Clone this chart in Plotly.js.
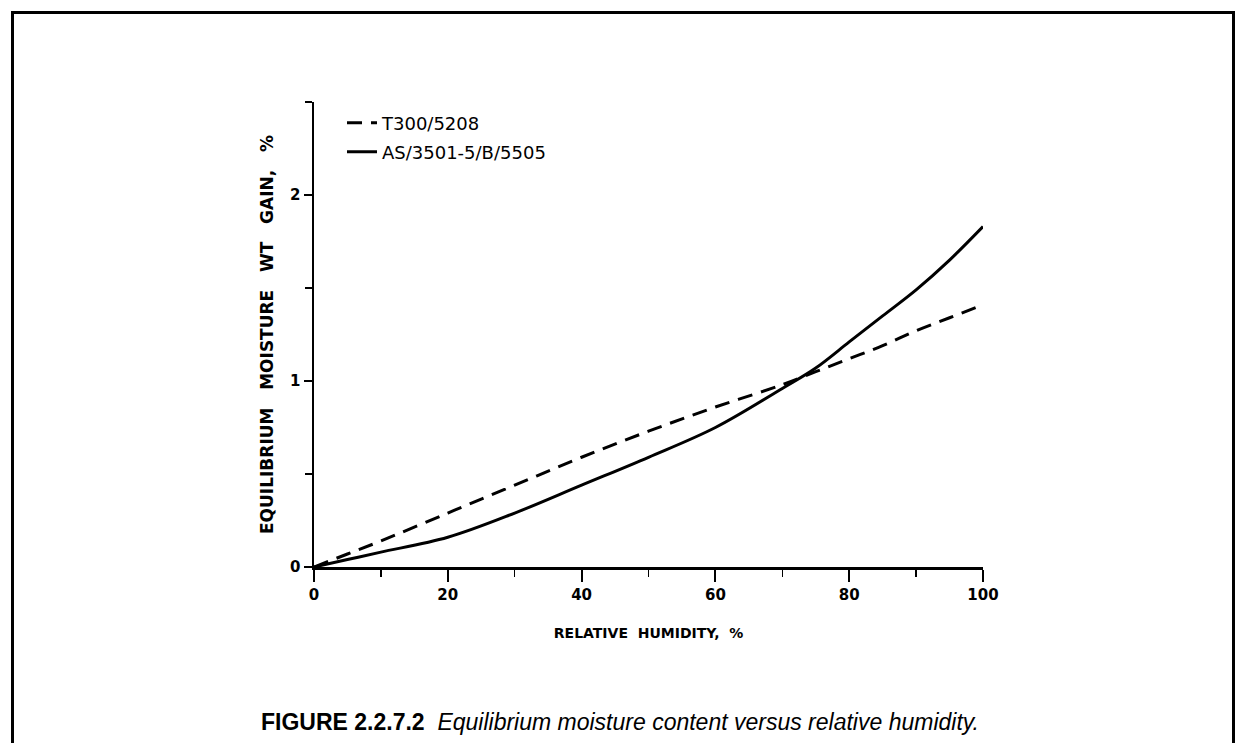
<!DOCTYPE html>
<html>
<head>
<meta charset="utf-8">
<script src="https://cdn.plot.ly/plotly-3.0.1.min.js"></script>
<style>
  html, body { margin: 0; padding: 0; background: #fff; }
  #wrap { position: relative; width: 1244px; height: 743px; }
  #frame { position: absolute; left: 11px; top: 11px; width: 1218px; height: 740px;
           border-top: 3px solid #000; border-left: 3px solid #000; border-right: 3px solid #000; pointer-events: none; }
  #chart { position: absolute; left: 0; top: 0; width: 1244px; height: 743px; }
</style>
</head>
<body>
<div id="wrap">
  <div id="chart"></div>
  <div id="frame"></div>
</div>
<script>
// Relative humidity, %
const humidity = [0, 5, 10, 20, 30, 40, 50, 60, 70, 75, 80, 85, 90, 95, 100];
// T300/5208 equilibrium moisture weight gain, %
const t300 = [0, 0.07, 0.14, 0.29, 0.44, 0.59, 0.73, 0.86, 0.98, 1.05, 1.12, 1.19, 1.27, 1.34, 1.41];
// AS/3501-5/B/5505 equilibrium moisture weight gain, %
const as3501 = [0, 0.04, 0.08, 0.16, 0.29, 0.44, 0.59, 0.75, 0.96, 1.07, 1.21, 1.35, 1.49, 1.65, 1.83];

const seriesNames = ['T300/5208', 'AS/3501-5/B/5505'];
const xTitle = ['RELATIVE', 'HUMIDITY,', '%'].join('\u00a0\u00a0');
const yTitle = ['EQUILIBRIUM', 'MOISTURE', 'WT', 'GAIN,', '%'].join('\u00a0\u00a0\u00a0');
const caption = '<b>FIGURE 2.2.7.2</b>\u00a0\u00a0<i>Equilibrium moisture content versus relative humidity.</i>';

const W = 1244, H = 743;
const plotL = 314, plotR = 983, plotT = 102, plotB = 567;
const px2x = p => (p - plotL) / (plotR - plotL);
const px2y = p => (plotB - p) / (plotB - plotT);

const traces = [
  { x: humidity, y: t300, name: seriesNames[0], mode: 'lines', legend: 'legend',
    line: { color: '#000', width: 3, dash: '15px,9px', shape: 'spline', smoothing: 1 } },
  { x: humidity, y: as3501, name: seriesNames[1], mode: 'lines', legend: 'legend2',
    line: { color: '#000', width: 3, shape: 'spline', smoothing: 1 } }
];

const tickFont = { family: 'DejaVu Sans', size: 15, color: '#000', weight: 'bold' };
const legendFont = { family: 'DejaVu Sans', size: 18, color: '#000' };

const layout = {
  width: W, height: H,
  paper_bgcolor: '#fff', plot_bgcolor: '#fff',
  margin: { l: plotL, r: W - plotR, t: plotT, b: H - plotB, pad: 0 },
  showlegend: true,
  legend: { x: px2x(342), y: px2y(123), xanchor: 'left', yanchor: 'middle',
            bgcolor: 'rgba(0,0,0,0)', font: legendFont },
  legend2: { x: px2x(342), y: px2y(152), xanchor: 'left', yanchor: 'middle',
             bgcolor: 'rgba(0,0,0,0)', font: legendFont },
  xaxis: {
    range: [0, 100], autorange: false, fixedrange: true,
    showline: true, linecolor: '#000', linewidth: 2.5,
    showgrid: false, zeroline: false,
    ticks: 'outside', ticklen: 12, tickwidth: 2, tickcolor: '#000',
    tick0: 0, dtick: 20,
    minor: { dtick: 10, ticks: 'outside', ticklen: 7, tickwidth: 1.5, tickcolor: '#000', showgrid: false },
    tickfont: tickFont,
    title: { text: xTitle, font: { family: 'DejaVu Sans', size: 14, color: '#000', weight: 'bold' }, standoff: 26 }
  },
  yaxis: {
    range: [0, 2.5], autorange: false, fixedrange: true,
    showline: true, linecolor: '#000', linewidth: 2.5,
    showgrid: false, zeroline: false,
    ticks: 'outside', ticklen: 8, tickwidth: 2, tickcolor: '#000',
    tick0: 0, dtick: 1,
    minor: { dtick: 0.5, ticks: 'outside', ticklen: 7, tickwidth: 1.5, tickcolor: '#000', showgrid: false },
    tickfont: tickFont,
    title: { text: yTitle, font: { family: 'DejaVu Sans', size: 17, color: '#000', weight: 'bold' }, standoff: 12 }
  },
  annotations: [
    { text: caption, xref: 'paper', yref: 'paper', x: px2x(620), y: px2y(722),
      xanchor: 'center', yanchor: 'middle', showarrow: false,
      font: { family: 'Liberation Sans', size: 23, color: '#000' } }
  ]
};

Plotly.newPlot('chart', traces, layout, { staticPlot: true, displayModeBar: false });
</script>
</body>
</html>
